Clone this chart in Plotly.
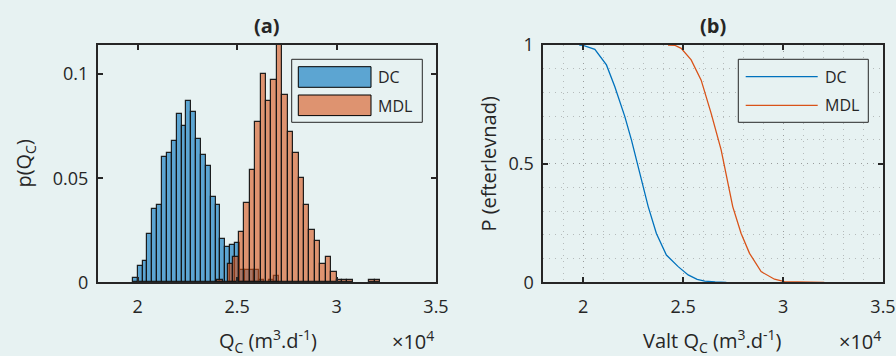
import plotly.graph_objects as go

W, H = 896, 356
BG = "#e7f2f2"
INK = "#262626"
FONT = "Open Sans"

# ---------------- data ----------------
# histogram (a): probability per bin
dc_bin_start = 19755
dc_bin_width = 244.5
dc_prob = [0.002, 0.008, 0.010, 0.023, 0.035, 0.037, 0.060, 0.062, 0.068, 0.081,
           0.075, 0.087, 0.082, 0.069, 0.061, 0.056, 0.041, 0.037, 0.021, 0.017,
           0.018, 0.019, 0.006, 0.006, 0.006, 0.006, 0.001, 0.0, 0.001, 0.003]

mdl_bin_start = 23990
mdl_bin_width = 273.2
mdl_prob = [0.001, 0.0, 0.009, 0.012, 0.024, 0.038, 0.054, 0.077, 0.100, 0.087,
            0.097, 0.114, 0.090, 0.072, 0.062, 0.050, 0.037, 0.025, 0.020, 0.009,
            0.012, 0.005, 0.001, 0.001, 0.001, 0.0, 0.0, 0.0, 0.001, 0.001]

# survival curves (b)
dc_surv_x = [19800, 20000, 20580, 21160, 21580, 22080, 22410, 22830, 23250, 23660,
             24160, 24750, 25250, 25700, 26080, 26600, 27160]
dc_surv_p = [1.0, 0.998, 0.982, 0.916, 0.824, 0.698, 0.600, 0.459, 0.319, 0.206,
             0.115, 0.066, 0.031, 0.012, 0.005, 0.002, 0.0]

mdl_surv_x = [24240, 24600, 24900, 25400, 25900, 26400, 26900, 27150, 27480, 27900,
              28320, 28900, 29570, 30070, 30600, 31400, 32060]
mdl_surv_p = [1.0, 0.998, 0.986, 0.937, 0.852, 0.712, 0.558, 0.459, 0.319, 0.206,
              0.122, 0.045, 0.013, 0.003, 0.002, 0.001, 0.0]

x_range = [18000, 35000]
x_tickvals = [20000, 25000, 30000, 35000]
x_ticktext = ["2", "2.5", "3", "3.5"]
ya_tickvals = [0, 0.05, 0.1]
ya_ticktext = ["0", "0.05", "0.1"]
yb_tickvals = [0, 0.5, 1]
yb_ticktext = ["0", "0.5", "1"]

series_names = ["DC", "MDL"]
BLUE = "#0072BD"
ORANGE = "#D95319"
BLUE_FILL = "rgba(0,114,189,0.6)"
ORANGE_FILL = "rgba(217,83,25,0.6)"

TICK_SIZE = 18
LABEL_SIZE = 20
LEGEND_SIZE = 16


def px(x):
    return x / W


def py(y):
    return 1 - y / H


def bars(start, width, probs):
    xs, ys = [], []
    for i, p in enumerate(probs):
        if p > 0:
            xs.append(start + (i + 0.5) * width)
            ys.append(p)
    return xs, ys


fig = go.Figure()

EDGE = dict(color="rgba(20,20,20,0.95)", width=1.2)
bx, by = bars(dc_bin_start, dc_bin_width, dc_prob)
fig.add_trace(go.Bar(x=bx, y=by, width=dc_bin_width, name=series_names[0],
                     marker=dict(color=BLUE_FILL, line=EDGE),
                     xaxis="x", yaxis="y", showlegend=False))
ox, oy = bars(mdl_bin_start, mdl_bin_width, mdl_prob)
fig.add_trace(go.Bar(x=ox, y=oy, width=mdl_bin_width, name=series_names[1],
                     marker=dict(color=ORANGE_FILL, line=EDGE),
                     xaxis="x", yaxis="y", showlegend=False))

fig.add_trace(go.Scatter(x=dc_surv_x, y=dc_surv_p, mode="lines", name=series_names[0],
                         line=dict(color=BLUE, width=1.3), xaxis="x2", yaxis="y2",
                         showlegend=False))
fig.add_trace(go.Scatter(x=mdl_surv_x, y=mdl_surv_p, mode="lines", name=series_names[1],
                         line=dict(color=ORANGE, width=1.3), xaxis="x2", yaxis="y2",
                         showlegend=False))

tickfont = dict(family=FONT, size=TICK_SIZE, color=INK)
common_ax = dict(showline=True, linecolor=INK, linewidth=2, mirror="ticks",
                 ticks="inside", ticklen=5, tickwidth=1.5, tickcolor=INK,
                 zeroline=False, tickfont=tickfont, fixedrange=True,
                 automargin=False)
GRID = "rgba(120,120,120,0.45)"
GDASH = "1px,5px"

fig.update_layout(
    width=W, height=H, autosize=False,
    margin=dict(l=0, r=0, t=0, b=0, pad=0),
    paper_bgcolor=BG, plot_bgcolor=BG,
    barmode="overlay", bargap=0,
    font=dict(family=FONT, size=TICK_SIZE, color=INK),
    xaxis=dict(domain=[px(98), px(436)], range=x_range, anchor="y",
               tickmode="array", tickvals=x_tickvals, ticktext=x_ticktext,
               ticklabelstandoff=7, showgrid=False, **common_ax),
    yaxis=dict(domain=[py(282.3), py(45)], range=[0, 0.114], anchor="x",
               tickmode="array", tickvals=ya_tickvals, ticktext=ya_ticktext,
               ticklabelstandoff=4, showgrid=False, **common_ax),
    xaxis2=dict(domain=[px(543.3), px(883)], range=x_range, anchor="y2",
                tickmode="array", tickvals=x_tickvals, ticktext=x_ticktext,
                ticklabelstandoff=7,
                showgrid=True, gridcolor=GRID, griddash=GDASH, gridwidth=1,
                minor=dict(tickmode="linear", tick0=0, dtick=1000, showgrid=True,
                           gridcolor=GRID, griddash=GDASH, gridwidth=1, ticks=""),
                **common_ax),
    yaxis2=dict(domain=[py(282.3), py(45)], range=[0, 1], anchor="x2",
                tickmode="array", tickvals=yb_tickvals, ticktext=yb_ticktext,
                ticklabelstandoff=4,
                showgrid=True, gridcolor=GRID, griddash=GDASH, gridwidth=1,
                minor=dict(tickmode="linear", tick0=0, dtick=0.1, showgrid=True,
                           gridcolor=GRID, griddash=GDASH, gridwidth=1, ticks=""),
                **common_ax),
)

shapes = []
annos = []


def text(x, y, s, size, xanchor="center", angle=0):
    annos.append(dict(x=px(x), y=py(y), xref="paper", yref="paper", text=s,
                      showarrow=False, xanchor=xanchor, yanchor="middle",
                      textangle=angle,
                      font=dict(family=FONT, size=size, color=INK)))


# titles and axis labels
text(267, 25, "<b>(a)</b>", LABEL_SIZE)
text(713, 25, "<b>(b)</b>", LABEL_SIZE)
text(268, 341, "Q<sub>C</sub> (m<sup>3</sup>.d<sup>-1</sup>)", LABEL_SIZE)
text(436, 340, "×10<sup>4</sup>", LABEL_SIZE, xanchor="right")
text(712, 341, "Valt Q<sub>C</sub> (m<sup>3</sup>.d<sup>-1</sup>)", LABEL_SIZE)
text(883, 340, "×10<sup>4</sup>", LABEL_SIZE, xanchor="right")
text(25, 163.6, "p(Q<sub>C</sub>)", LABEL_SIZE, angle=-90)
text(489, 163.6, "P (efterlevnad)", LABEL_SIZE, angle=-90)

# legend (a)
shapes.append(dict(type="rect", xref="paper", yref="paper",
                   x0=px(291.7), x1=px(422.3), y0=py(122.3), y1=py(59.3),
                   fillcolor=BG, line=dict(color=INK, width=1)))
for i, (nm, col) in enumerate(zip(series_names, [BLUE_FILL, ORANGE_FILL])):
    y0 = 66.7 + i * 28.3
    shapes.append(dict(type="rect", xref="paper", yref="paper",
                       x0=px(298.3), x1=px(371), y0=py(y0 + 20.6), y1=py(y0),
                       fillcolor=col, line=dict(color="black", width=1)))
    text(376, y0 + 10.5, nm, LEGEND_SIZE, xanchor="left")

# legend (b)
shapes.append(dict(type="rect", xref="paper", yref="paper",
                   x0=px(738.3), x1=px(868.3), y0=py(122.3), y1=py(59.3),
                   fillcolor=BG, line=dict(color=INK, width=1)))
for i, (nm, col) in enumerate(zip(series_names, [BLUE, ORANGE])):
    yl = 76.7 + i * 28.6
    shapes.append(dict(type="line", xref="paper", yref="paper",
                       x0=px(745.7), x1=px(817.7), y0=py(yl), y1=py(yl),
                       line=dict(color=col, width=1.3)))
    text(823, yl, nm, LEGEND_SIZE, xanchor="left")

fig.update_layout(shapes=shapes, annotations=annos)

fig.write_html("out.html")
